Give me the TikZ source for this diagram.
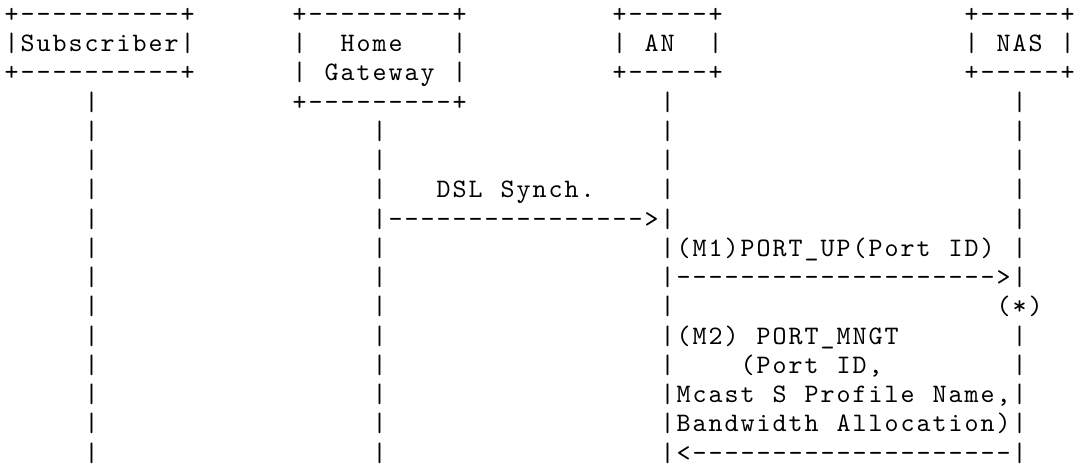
\documentclass[tikz,border=0pt]{standalone}
\usepackage{tikz}

% every character sits in a cell of the same width, ~ is an empty cell
\ExplSyntaxOn
\NewDocumentCommand \mono { m }
  {
    \str_map_inline:nn {#1}
      {
        \str_if_eq:eeTF {##1} { \c_tilde_str }
          { \makebox[6pt]{} }
          { \makebox[6pt]{##1} }
      }
  }
\ExplSyntaxOff

\begin{document}
\begin{tikzpicture}[
        x=6pt, y=-10.97pt,
        asc/.style={inner sep=0pt, outer sep=0pt, anchor=base west,
            font=\ttfamily\fontsize{10}{12}\selectfont}
    ]
        \useasboundingbox (-1.39pt, 8.42pt) rectangle (401.74pt, -167.08pt);

        % Boxes of the four parties
        \node[asc] (subtop) at (0, 0) {\mono{+----------+}};
        \node[asc] (subname) at (0, 1) {\mono{|Subscriber|}};
        \node[asc] (subbot) at (0, 2) {\mono{+----------+}};

        \node[asc] (hgtop) at (18, 0) {\mono{+---------+}};
        \node[asc] (hgname) at (18, 1) {\mono{|~~Home~~~|}};
        \node[asc] (hgnamb) at (18, 2) {\mono{|~Gateway~|}};
        \node[asc] (hgbot) at (18, 3) {\mono{+---------+}};

        \node[asc] (antop) at (38, 0) {\mono{+-----+}};
        \node[asc] (anname) at (38, 1) {\mono{|~AN~~|}};
        \node[asc] (anbot) at (38, 2) {\mono{+-----+}};

        \node[asc] (nastop) at (60, 0) {\mono{+-----+}};
        \node[asc] (nasname) at (60, 1) {\mono{|~NAS~|}};
        \node[asc] (nasbot) at (60, 2) {\mono{+-----+}};

        % Lifelines, one bar per row
        \foreach \r in {3,...,15}
            \node[asc] (sub\r) at (5, \r) {\mono{|}};
        \foreach \r in {4,...,15}
            \node[asc] (hg\r) at (23, \r) {\mono{|}};
        \foreach \r in {3,...,15}
            \node[asc] (an\r) at (41, \r) {\mono{|}};
        \foreach \r in {3,4,5,6,7,8,9,11,12,13,14,15}
            \node[asc] (nas\r) at (63, \r) {\mono{|}};

        % Messages
        \node[asc] (dsl) at (27, 6) {\mono{DSL Synch.}};
        \node[asc] (dslarrow) at (24, 7) {\mono{---------------->}};

        \node[asc] (mone) at (42, 8) {\mono{(M1)PORT_UP(Port ID)}};
        \node[asc] (monearrow) at (42, 9) {\mono{-------------------->}};
        \node[asc] (star) at (62, 10) {\mono{(*)}};

        \node[asc] (mtwo) at (42, 11) {\mono{(M2) PORT_MNGT}};
        \node[asc] (mtwoa) at (46, 12) {\mono{(Port ID,}};
        \node[asc] (mtwob) at (42, 13) {\mono{Mcast S Profile Name,}};
        \node[asc] (mtwoc) at (42, 14) {\mono{Bandwidth Allocation)}};
        \node[asc] (mtwoarrow) at (42, 15) {\mono{<--------------------}};

    \end{tikzpicture}
\end{document}
